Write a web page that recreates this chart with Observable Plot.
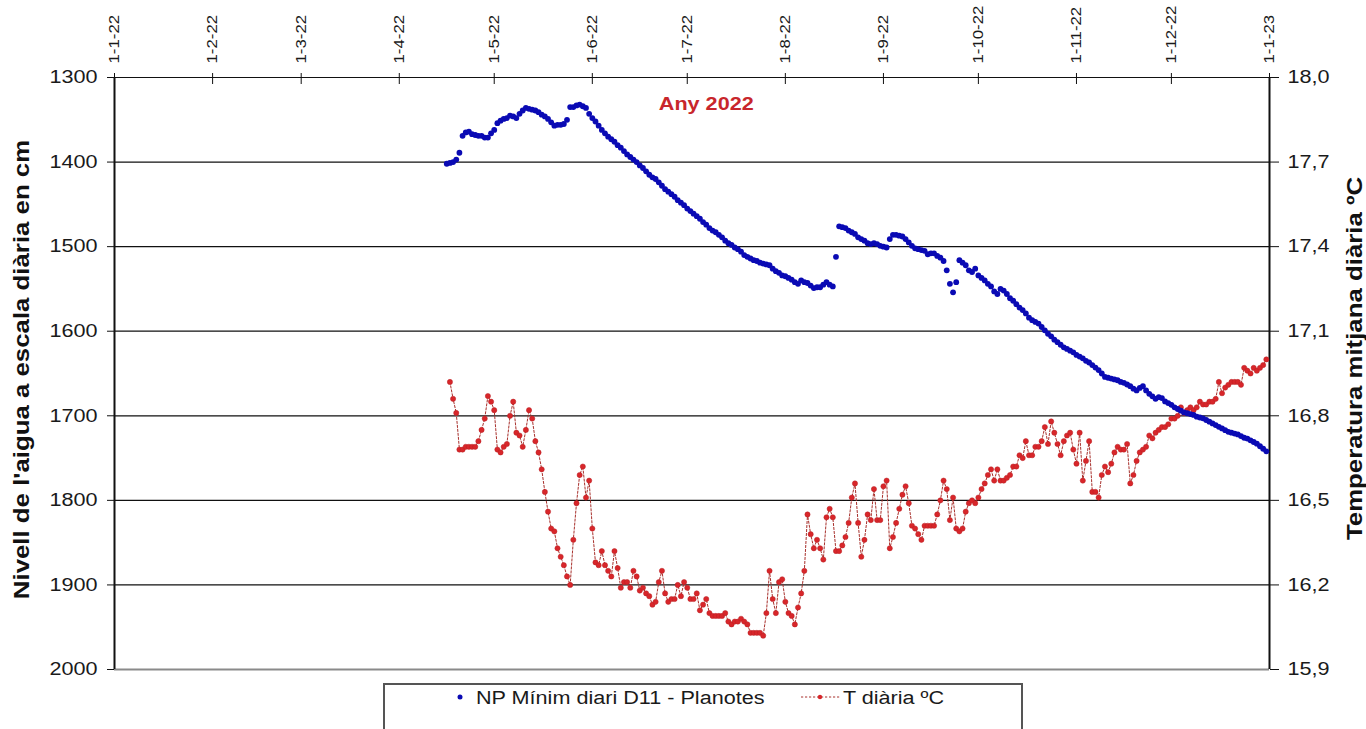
<!DOCTYPE html>
<html>
<head>
<meta charset="utf-8">
<script src="https://cdn.jsdelivr.net/npm/d3@7"></script>
<script src="https://cdn.jsdelivr.net/npm/@observablehq/plot@0.6"></script>
<style>
  html, body { margin: 0; padding: 0; background: #fff; overflow: hidden; }
  #chart { position: relative; width: 1366px; height: 729px; }
  #legend {
    position: absolute; left: 383px; top: 683px; width: 640px; height: 70px;
    border: 2px solid #555; box-sizing: border-box; background: #fff;
  }
  #legend svg { display: block; }
</style>
</head>
<body>
<div id="chart"><div id="legend"></div></div>
<script>
// Daily minimum water level at D11 - Planotes (cm), one value per day from levelStart
const levelStart = "2022-04-16";
const level = [
  1402, 1401, 1400, 1397, 1389, 1369, 1365, 1364, 1367, 1368,
  1369, 1369, 1371, 1371, 1366, 1362, 1354, 1351, 1349, 1348,
  1345, 1346, 1348, 1343, 1339, 1336, 1337, 1338, 1339, 1341,
  1344, 1346, 1349, 1353, 1357, 1356, 1356, 1355, 1350, 1335,
  1335, 1333, 1332, 1334, 1336, 1343, 1348, 1352, 1357, 1362,
  1366, 1370, 1373, 1376, 1380, 1383, 1387, 1391, 1394, 1397,
  1400, 1404, 1407, 1411, 1415, 1418, 1420, 1424, 1428, 1432,
  1435, 1438, 1441, 1445, 1448, 1451, 1455, 1458, 1461, 1464,
  1467, 1471, 1474, 1478, 1481, 1483, 1486, 1489, 1493, 1496,
  1498, 1501, 1503, 1506, 1510, 1512, 1514, 1516, 1517, 1519,
  1520, 1521, 1522, 1526, 1529, 1531, 1534, 1535, 1537, 1539,
  1542, 1544, 1540, 1542, 1543, 1546, 1549, 1548, 1548, 1545,
  1542, 1545, 1547, 1512, 1476, 1477, 1478, 1481, 1483, 1485,
  1489, 1491, 1493, 1496, 1497, 1496, 1497, 1499, 1500, 1501,
  1491, 1486, 1486, 1487, 1488, 1491, 1495, 1499, 1502, 1503,
  1504, 1505, 1509, 1508, 1508, 1511, 1513, 1517, 1528, 1544,
  1554, 1542, 1516, 1519, 1522, 1528, 1530, 1526, 1534, 1537,
  1540, 1544, 1547, 1553, 1556, 1550, 1552, 1556, 1561, 1564,
  1568, 1572, 1575, 1579, 1584, 1587, 1589, 1591, 1595, 1599,
  1603, 1606, 1610, 1613, 1616, 1619, 1621, 1623, 1625, 1628,
  1630, 1632, 1635, 1637, 1640, 1643, 1646, 1650, 1654, 1655,
  1656, 1657, 1658, 1660, 1661, 1663, 1665, 1668, 1670, 1667,
  1665, 1670, 1674, 1677, 1680, 1678, 1679, 1683, 1685, 1687,
  1690, 1692, 1694, 1696, 1697, 1698, 1699, 1701, 1702, 1703,
  1705, 1707, 1709, 1711, 1713, 1715, 1717, 1719, 1720, 1721,
  1722, 1724, 1726, 1727, 1729, 1731, 1733, 1736, 1739, 1742
];

// Daily mean temperature (ºC), one value per day from tempStart
const tempStart = "2022-04-17";
const temp = [
  16.92, 16.86, 16.81, 16.68, 16.68, 16.69, 16.69, 16.69, 16.69, 16.71,
  16.75, 16.79, 16.87, 16.85, 16.82, 16.68, 16.67, 16.69, 16.70, 16.80,
  16.85, 16.74, 16.73, 16.69, 16.75, 16.82, 16.79, 16.71, 16.67, 16.61,
  16.53, 16.46, 16.40, 16.39, 16.33, 16.30, 16.27, 16.23, 16.20, 16.36,
  16.49, 16.59, 16.62, 16.51, 16.57, 16.40, 16.28, 16.27, 16.32, 16.27,
  16.25, 16.23, 16.32, 16.26, 16.19, 16.21, 16.21, 16.19, 16.25, 16.23,
  16.18, 16.19, 16.17, 16.16, 16.13, 16.14, 16.21, 16.25, 16.17, 16.14,
  16.15, 16.15, 16.20, 16.16, 16.21, 16.19, 16.15, 16.15, 16.17, 16.11,
  16.13, 16.15, 16.10, 16.09, 16.09, 16.09, 16.09, 16.10, 16.07, 16.06,
  16.07, 16.07, 16.08, 16.07, 16.06, 16.03, 16.03, 16.03, 16.03, 16.02,
  16.10, 16.25, 16.15, 16.10, 16.21, 16.22, 16.14, 16.10, 16.09, 16.06,
  16.12,
  16.17, 16.25, 16.45, 16.38, 16.33, 16.36, 16.33, 16.29, 16.44, 16.47,
  16.44, 16.32, 16.32, 16.34, 16.37, 16.42, 16.51, 16.56, 16.42, 16.30,
  16.36, 16.45, 16.43, 16.54, 16.43, 16.43, 16.55, 16.57, 16.33, 16.37,
  16.42, 16.47, 16.52, 16.55, 16.49, 16.41, 16.40, 16.38, 16.36, 16.41,
  16.41,
  16.41, 16.41, 16.45, 16.50, 16.57, 16.54, 16.43, 16.51, 16.40, 16.39,
  16.40, 16.46, 16.49, 16.50, 16.49, 16.51, 16.54, 16.56, 16.59, 16.61,
  16.57, 16.61, 16.57, 16.57, 16.58, 16.59, 16.62, 16.62, 16.66, 16.65,
  16.71, 16.66, 16.66, 16.69, 16.69, 16.71, 16.76, 16.70, 16.78, 16.74,
  16.70, 16.66, 16.71, 16.73, 16.74, 16.68, 16.63, 16.74, 16.57, 16.64,
  16.71, 16.53, 16.53, 16.51, 16.59, 16.62, 16.60, 16.63, 16.67, 16.69, 16.68,
  16.68, 16.70, 16.56, 16.59, 16.64, 16.67, 16.68, 16.69, 16.73, 16.72, 16.74, 16.75,
  16.76, 16.76, 16.77, 16.79, 16.79, 16.80, 16.83, 16.81, 16.82, 16.83,
  16.82, 16.83, 16.85, 16.84, 16.84, 16.85, 16.85, 16.86, 16.92, 16.88,
  16.90, 16.91, 16.92, 16.92, 16.92, 16.91, 16.97, 16.96, 16.95, 16.97,
  16.96, 16.97, 16.98, 17.00
];

// Axis ticks
const levelTicks = [1300, 1400, 1500, 1600, 1700, 1800, 1900, 2000];
const tempTicks = [15.9, 16.2, 16.5, 16.8, 17.1, 17.4, 17.7, 18.0];
const yearRange = ["2022-01-01", "2023-01-01"];

// Labels
const levelTitle = "Nivell de l'aigua a escala diària en cm";
const tempTitle = "Temperatura mitjana diària ºC";
const yearText = "Any 2022";
const levelName = "NP Mínim diari D11 - Planotes";
const tempName = "T diària ºC";

const BLUE = "#0a0ab4";
const RED = "#d8262a";
const RED_LINE = "#a8302c";

const xDomain = yearRange.map(d => new Date(d));
const monthTicks = d3.utcMonth.range(xDomain[0], d3.utcDay.offset(xDomain[1], 1));

// Temperature is drawn on the right axis, mapped onto the level scale
const tempToLevel = d3.scaleLinear()
  .domain([tempTicks[0], tempTicks[tempTicks.length - 1]])
  .range([levelTicks[levelTicks.length - 1], levelTicks[0]]);

const levelRows = level.map((v, i) => ({date: d3.utcDay.offset(new Date(levelStart), i), v}));
const tempRows = temp.map((t, i) => ({date: d3.utcDay.offset(new Date(tempStart), i), t}));

const fmtComma = v => d3.format(".1f")(v).replace(".", ",");

const plot = Plot.plot({
  width: 1366,
  height: 680,
  marginLeft: 114,
  marginRight: 97,
  marginTop: 77,
  marginBottom: 11,
  style: {
    fontFamily: "'Liberation Sans', Arial, sans-serif",
    fontSize: "18px",
    color: "#1a1a1a",
    background: "#fff",
    overflow: "visible"
  },
  x: {type: "utc", domain: xDomain},
  y: {domain: [levelTicks[0], levelTicks[levelTicks.length - 1]], reverse: true},
  marks: [
    // horizontal grid
    Plot.ruleY(levelTicks.slice(0, -1), {stroke: "#111", strokeWidth: 1.2}),
    Plot.ruleY(levelTicks.slice(-1), {stroke: "#8a8a8a", strokeWidth: 2.2}),
    // plot-area sides
    Plot.ruleX(xDomain, {stroke: "#111", strokeWidth: 2}),
    // temperature series
    Plot.line(tempRows, {
      x: "date", y: d => tempToLevel(d.t),
      stroke: RED_LINE, strokeWidth: 1, strokeDasharray: "2.2,1.8"
    }),
    Plot.dot(tempRows, {
      x: "date", y: d => tempToLevel(d.t),
      r: 2.6, fill: RED, stroke: "#b82024", strokeWidth: 0.5
    }),
    // water level series
    Plot.dot(levelRows, {x: "date", y: "v", r: 2.9, fill: BLUE}),
    // axes
    Plot.axisX({
      anchor: "top", ticks: monthTicks, tickFormat: d3.utcFormat("%-d-%-m-%y"),
      tickRotate: -90, tickSize: 11, dy: 6, tickPadding: 9, fontSize: 14,
      stroke: "#111", label: null
    }),
    Plot.axisY({
      anchor: "left", ticks: levelTicks, tickFormat: d => String(d),
      tickSize: 7, tickPadding: 10, stroke: "#111", label: null
    }),
    Plot.axisY({
      anchor: "right", ticks: tempTicks.map(tempToLevel),
      tickFormat: v => fmtComma(tempToLevel.invert(v)),
      tickSize: 9, tickPadding: 9, stroke: "#111", label: null
    }),
    // axis titles
    Plot.text([levelTitle], {
      frameAnchor: "left", rotate: -90, dx: -92, dy: -4,
      textAnchor: "middle", lineAnchor: "middle",
      fontWeight: "bold", fontSize: 21.5, fill: "#111"
    }),
    Plot.text([tempTitle], {
      frameAnchor: "right", rotate: -90, dx: 86, dy: -15,
      textAnchor: "middle", lineAnchor: "middle",
      fontWeight: "bold", fontSize: 21.5, fill: "#111"
    }),
    // year annotation
    Plot.text([yearText], {
      x: new Date("2022-07-07"), y: 1332,
      textAnchor: "middle", lineAnchor: "middle",
      fontWeight: "bold", fontSize: 18, fill: "#c8262c"
    })
  ]
});

document.getElementById("chart").prepend(plot);

// Legend
const leg = d3.select("#legend").append("svg")
  .attr("width", 636).attr("height", 66)
  .style("font-family", "'Liberation Sans', Arial, sans-serif")
  .style("font-size", "18px");
leg.append("circle").attr("cx", 75).attr("cy", 12).attr("r", 2.5).attr("fill", BLUE);
leg.append("text").attr("x", 91).attr("y", 18.5).attr("fill", "#1a1a1a").text(levelName);
leg.append("line").attr("x1", 416).attr("x2", 456).attr("y1", 12).attr("y2", 12)
  .attr("stroke", RED_LINE).attr("stroke-width", 1).attr("stroke-dasharray", "2.2,1.8");
leg.append("circle").attr("cx", 435).attr("cy", 12).attr("r", 2.2).attr("fill", RED);
leg.append("text").attr("x", 458).attr("y", 18.5).attr("fill", "#1a1a1a").text(tempName);

// Every label uses a wide setting of the face along its baseline
const STRETCH = 1.2;
for (const t of document.querySelectorAll("#chart text")) {
  const w = t.getComputedTextLength();
  t.setAttribute("textLength", (w * STRETCH).toFixed(1));
  t.setAttribute("lengthAdjust", "spacingAndGlyphs");
}
</script>
</body>
</html>
